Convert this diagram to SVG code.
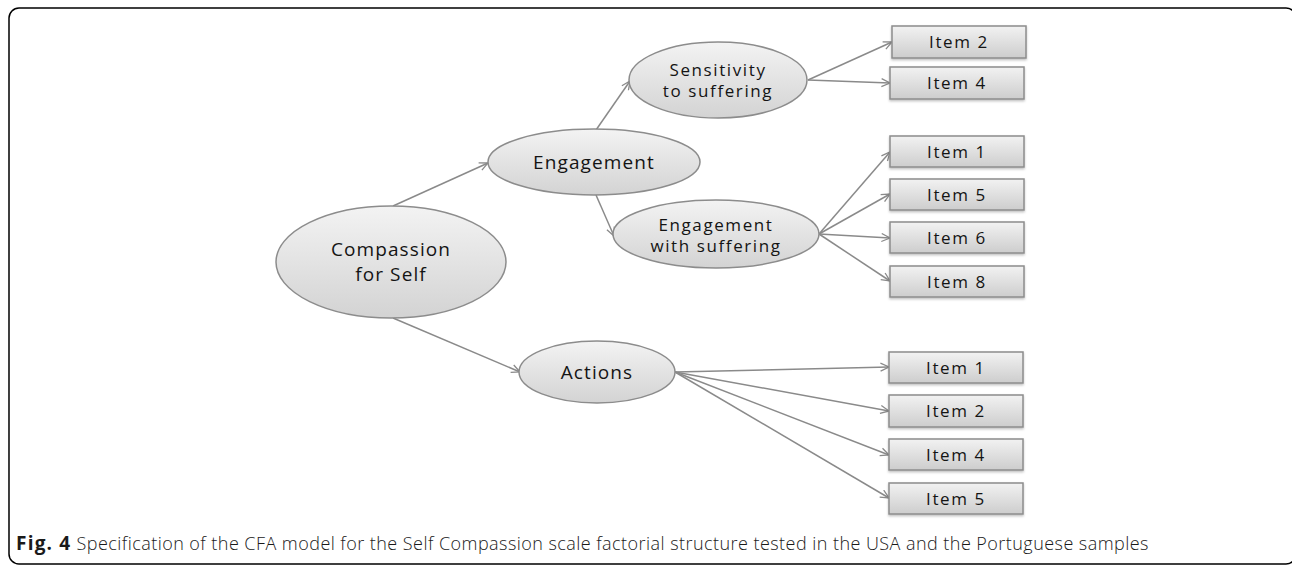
<svg xmlns="http://www.w3.org/2000/svg" width="1292" height="565" viewBox="0 0 1292 565">
<style>
.nd{stroke:#8c8c8c;stroke-width:1.5}
.el{fill:url(#gE)}
.bx{fill:url(#gB);filter:url(#sh)}
.t{font-family:"Open Sans","Liberation Sans",sans-serif;fill:#141414;text-anchor:middle;font-weight:500}
.tn{font-size:19px;letter-spacing:1.1px}
.ti{font-size:17px;letter-spacing:1.6px}
.cn line{stroke:#8a8a8a;stroke-width:1.5;marker-end:url(#ah)}
.cap{font-family:"Open Sans","Liberation Sans",sans-serif;font-size:18px;fill:#1a1a1a}
</style>
<defs>
<linearGradient id="gE" x1="0" y1="0" x2="0" y2="1"><stop offset="0" stop-color="#f3f3f3"/><stop offset="1" stop-color="#d3d3d3"/></linearGradient>
<linearGradient id="gB" x1="0" y1="0" x2="0" y2="1"><stop offset="0" stop-color="#f2f2f2"/><stop offset="1" stop-color="#cdcdcd"/></linearGradient>
<filter id="sh" x="-10%" y="-20%" width="120%" height="150%"><feDropShadow dx="0" dy="1.5" stdDeviation="1" flood-color="#000" flood-opacity="0.25"/></filter>
<marker id="ah" viewBox="0 0 10 10" refX="9.5" refY="5" markerWidth="10" markerHeight="10" markerUnits="userSpaceOnUse" orient="auto"><path d="M1,1 L9.5,5 L1,9" fill="none" stroke="#8a8a8a" stroke-width="1.3"/></marker>
</defs>
<rect x="9" y="8" width="1287" height="556" rx="10" fill="#fff" stroke="#000" stroke-width="1.5"/>
<g class="cn" id="connectors">
<line x1="393" y1="206" x2="488" y2="163"/>
<line x1="393" y1="318" x2="520" y2="372"/>
<line x1="596" y1="130" x2="630" y2="81"/>
<line x1="596" y1="195" x2="614" y2="236"/>
<line x1="808" y1="80" x2="892" y2="42"/>
<line x1="808" y1="80" x2="890" y2="83"/>
<line x1="819" y1="234" x2="890" y2="152"/>
<line x1="819" y1="234" x2="890" y2="194"/>
<line x1="819" y1="234" x2="890" y2="238"/>
<line x1="819" y1="234" x2="890" y2="281"/>
<line x1="675" y1="372" x2="889" y2="367"/>
<line x1="675" y1="372" x2="889" y2="411"/>
<line x1="675" y1="372" x2="889" y2="455"/>
<line x1="675" y1="372" x2="889" y2="498"/>
</g>
<g id="compassion"><ellipse class="nd el" cx="391" cy="262" rx="115" ry="56"/><text class="t tn" x="391" y="256">Compassion</text><text class="t tn" x="391" y="281">for Self</text></g>
<g id="engagement"><ellipse class="nd el" cx="594" cy="162" rx="106" ry="33"/><text class="t tn" x="594" y="169">Engagement</text></g>
<g id="sensitivity"><ellipse class="nd el" cx="718" cy="80" rx="89" ry="38"/><text class="t ti" x="718" y="76">Sensitivity</text><text class="t ti" x="718" y="97">to suffering</text></g>
<g id="engwith"><ellipse class="nd el" cx="716" cy="234" rx="103" ry="34"/><text class="t ti" x="716" y="231">Engagement</text><text class="t ti" x="716" y="252">with suffering</text></g>
<g id="actions"><ellipse class="nd el" cx="597" cy="372" rx="78" ry="31"/><text class="t tn" x="597" y="379">Actions</text></g>
<g id="s-item2"><rect class="nd bx" x="892" y="26" width="134" height="32"/><text class="t ti" x="959" y="48">Item 2</text></g>
<g id="s-item4"><rect class="nd bx" x="890" y="67" width="134" height="32"/><text class="t ti" x="957" y="89">Item 4</text></g>
<g id="e-item1"><rect class="nd bx" x="890" y="136" width="134" height="31"/><text class="t ti" x="957" y="158">Item 1</text></g>
<g id="e-item5"><rect class="nd bx" x="890" y="179" width="134" height="31"/><text class="t ti" x="957" y="201">Item 5</text></g>
<g id="e-item6"><rect class="nd bx" x="890" y="222" width="134" height="31"/><text class="t ti" x="957" y="244">Item 6</text></g>
<g id="e-item8"><rect class="nd bx" x="890" y="266" width="134" height="31"/><text class="t ti" x="957" y="288">Item 8</text></g>
<g id="a-item1"><rect class="nd bx" x="889" y="352" width="134" height="31"/><text class="t ti" x="956" y="374">Item 1</text></g>
<g id="a-item2"><rect class="nd bx" x="889" y="395" width="134" height="32"/><text class="t ti" x="956" y="417">Item 2</text></g>
<g id="a-item4"><rect class="nd bx" x="889" y="439" width="134" height="31"/><text class="t ti" x="956" y="461">Item 4</text></g>
<g id="a-item5"><rect class="nd bx" x="889" y="483" width="134" height="31"/><text class="t ti" x="956" y="505">Item 5</text></g>
<text class="cap" x="16" y="550"><tspan font-weight="bold" font-size="19" letter-spacing="1.2">Fig. 4</tspan><tspan font-weight="300" letter-spacing="0.45"> Specification of the CFA model for the Self Compassion scale factorial structure tested in the USA and the Portuguese samples</tspan></text>
</svg>
